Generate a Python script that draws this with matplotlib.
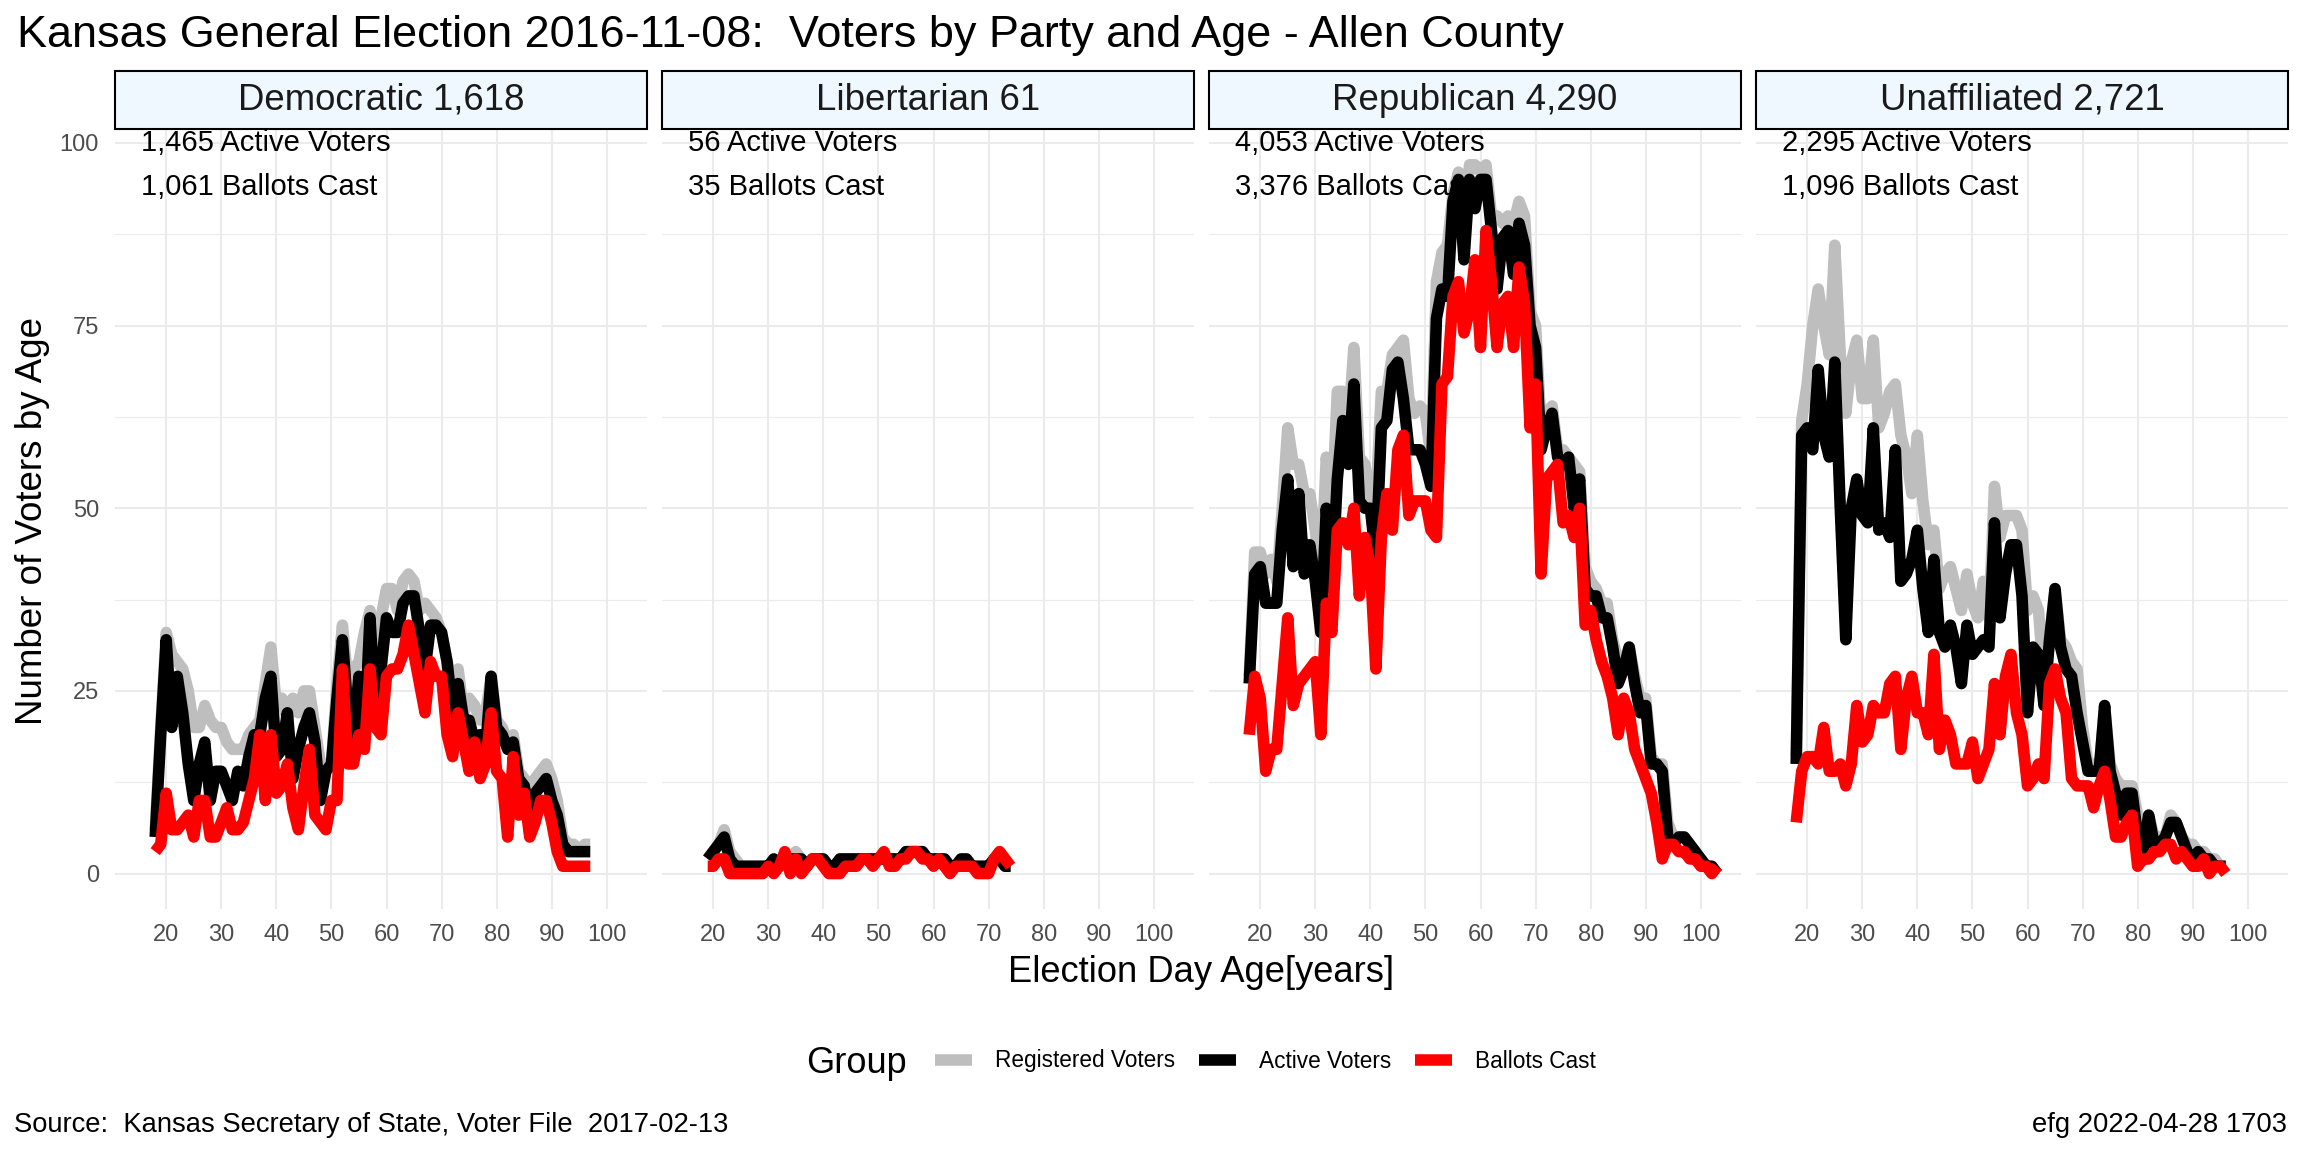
import numpy as np
import matplotlib
matplotlib.use('Agg')
import matplotlib.pyplot as plt
from matplotlib.patches import Rectangle

plt.rcParams['font.family'] = ['Liberation Sans', 'DejaVu Sans']

W, H = 2304, 1152

# Party totals shown in strips / annotations
parties = ['Democratic', 'Libertarian', 'Republican', 'Unaffiliated']
registered_total = [1618, 61, 4290, 2721]
active_total = [1465, 56, 4053, 2295]
ballots_total = [1061, 35, 3376, 1096]

# Democratic, ages 18-97
dem_ages = np.arange(18, 98)
dem_registered = [6, 20, 33, 30, 29, 28, 25, 20, 20, 23,
                  21, 20, 20, 18, 17, 17, 17, 19, 20, 21,
                  26, 31, 23, 24, 21, 24, 22, 25, 25, 20,
                  15, 15, 15, 26, 34, 26, 28, 29, 33, 36,
                  29, 35, 39, 39, 36, 40, 41, 40, 36, 37,
                  36, 35, 33, 29, 26, 28, 22, 24, 23, 21,
                  22, 27, 21, 20, 18, 19, 14, 13, 12, 13,
                  14, 15, 13, 10, 5, 4, 4, 3, 4, 4]
dem_active = [5, 19, 32, 20, 27, 22, 15, 10, 15, 18,
              10, 14, 14, 12, 10, 14, 12, 16, 19, 19,
              24, 27, 16, 17, 22, 13, 17, 20, 22, 18,
              10, 14, 15, 24, 32, 22, 19, 27, 19, 35,
              22, 28, 35, 33, 33, 37, 38, 38, 33, 28,
              34, 34, 33, 29, 22, 26, 21, 21, 18, 19,
              17, 27, 20, 19, 17, 18, 13, 12, 8, 11,
              12, 13, 10, 8, 4, 3, 3, 3, 3, 3]
dem_ballots = [3, 4, 11, 6, 6, 7, 8, 5, 10, 10,
               5, 5, 7, 9, 6, 6, 7, 10, 13, 19,
               10, 19, 11, 12, 15, 9, 6, 12, 17, 8,
               7, 6, 10, 10, 28, 15, 15, 19, 17, 28,
               20, 19, 27, 28, 28, 30, 34, 30, 26, 22,
               29, 27, 27, 19, 16, 22, 18, 14, 18, 13,
               15, 22, 14, 13, 5, 16, 8, 11, 5, 7,
               10, 10, 7, 3, 1, 1, 1, 1, 1, 1]

# Libertarian, ages 19-74
lib_ages = np.arange(19, 75)
lib_registered = [2, 3, 4, 6, 3, 2, 1, 1, 1, 1,
                  1, 1, 2, 1, 2, 2, 3, 2, 1, 2,
                  2, 2, 1, 1, 2, 2, 2, 2, 2, 2,
                  2, 2, 2, 2, 2, 2, 3, 3, 3, 3,
                  2, 2, 2, 2, 1, 1, 2, 2, 1, 1,
                  1, 1, 2, 3, 1, 1]
lib_active = [2, 3, 4, 5, 2, 1, 1, 1, 1, 1,
              1, 1, 2, 1, 2, 2, 2, 2, 1, 2,
              2, 2, 1, 1, 2, 2, 2, 2, 2, 2,
              2, 2, 2, 2, 2, 2, 3, 3, 3, 3,
              2, 2, 2, 2, 1, 1, 2, 2, 1, 1,
              1, 1, 2, 2, 1, 1]
lib_ballots = [1, 1, 2, 2, 0, 0, 0, 0, 0, 0,
               0, 1, 0, 1, 3, 0, 2, 0, 1, 2,
               2, 1, 0, 0, 0, 1, 1, 1, 2, 2,
               1, 2, 3, 1, 1, 2, 2, 3, 3, 2,
               2, 1, 2, 1, 0, 1, 1, 1, 1, 0,
               0, 0, 2, 3, 2, 1]

# Republican, ages 18-103
rep_ages = np.arange(18, 104)
rep_registered = [27, 44, 44, 41, 43, 40, 50, 61, 56, 56,
                  52, 52, 47, 40, 57, 49, 66, 66, 61, 72,
                  57, 56, 51, 51, 66, 66, 71, 72, 73, 65,
                  63, 64, 63, 57, 81, 85, 86, 93, 96, 87,
                  97, 97, 96, 97, 90, 90, 89, 90, 89, 92,
                  90, 77, 75, 61, 63, 64, 58, 58, 57, 56,
                  55, 42, 40, 39, 37, 37, 32, 29, 29, 31,
                  27, 24, 24, 16, 15, 15, 7, 5, 5, 5,
                  4, 3, 2, 1, 1, 0]
rep_active = [26, 41, 42, 37, 37, 37, 47, 54, 42, 52,
              41, 45, 40, 33, 50, 39, 54, 62, 56, 67,
              51, 50, 50, 43, 61, 62, 69, 70, 65, 58,
              58, 58, 56, 53, 76, 80, 79, 92, 95, 84,
              95, 91, 95, 95, 88, 80, 87, 88, 82, 89,
              86, 75, 72, 58, 61, 63, 57, 56, 57, 50,
              54, 39, 38, 38, 35, 35, 31, 26, 28, 31,
              26, 22, 23, 15, 15, 14, 5, 4, 5, 5,
              4, 3, 2, 1, 1, 0]
rep_ballots = [19, 27, 24, 14, 17, 17, 26, 35, 23, 26,
               27, 28, 29, 19, 37, 33, 47, 48, 45, 50,
               38, 46, 42, 28, 46, 52, 47, 58, 60, 49,
               51, 51, 51, 47, 46, 67, 68, 79, 81, 74,
               77, 84, 72, 88, 81, 72, 78, 79, 72, 83,
               78, 61, 67, 41, 54, 55, 56, 48, 49, 46,
               50, 34, 36, 32, 29, 27, 24, 19, 24, 22,
               17, 15, 13, 11, 7, 2, 4, 4, 3, 3,
               2, 2, 1, 1, 0, 1]

# Unaffiliated, ages 18-96
una_ages = np.arange(18, 97)
una_registered = [16, 62, 67, 75, 80, 75, 71, 86, 71, 63,
                  70, 73, 65, 65, 73, 61, 63, 66, 67, 60,
                  57, 52, 60, 51, 45, 47, 39, 41, 42, 39,
                  36, 41, 37, 35, 40, 35, 53, 46, 49, 49,
                  49, 47, 36, 38, 36, 26, 32, 39, 32, 31,
                  29, 28, 20, 15, 15, 14, 23, 15, 13, 12,
                  12, 12, 8, 3, 8, 5, 5, 5, 8, 7,
                  5, 4, 4, 3, 3, 2, 2, 1, 1]
una_active = [15, 60, 61, 58, 69, 60, 57, 70, 50, 32,
              50, 54, 49, 48, 61, 47, 48, 46, 58, 40,
              41, 43, 47, 39, 33, 43, 33, 31, 34, 31,
              26, 34, 30, 31, 32, 31, 48, 35, 41, 45,
              45, 38, 22, 31, 30, 23, 32, 39, 31, 28,
              27, 22, 18, 14, 14, 14, 23, 14, 11, 8,
              11, 11, 5, 3, 8, 4, 4, 5, 7, 7,
              5, 3, 2, 3, 2, 2, 1, 1, 1]
una_ballots = [7, 14, 16, 16, 15, 20, 14, 14, 15, 12,
               15, 23, 18, 19, 23, 22, 22, 26, 27, 17,
               24, 27, 22, 22, 19, 30, 17, 21, 19, 15,
               15, 15, 18, 13, 15, 17, 26, 19, 27, 30,
               22, 19, 12, 13, 15, 13, 26, 28, 24, 22,
               13, 12, 12, 12, 9, 12, 14, 10, 5, 5,
               7, 8, 1, 2, 2, 3, 3, 4, 4, 2,
               3, 2, 1, 1, 2, 0, 1, 1, 0]

series = [
    (dem_ages, dem_registered, dem_active, dem_ballots),
    (lib_ages, lib_registered, lib_active, lib_ballots),
    (rep_ages, rep_registered, rep_active, rep_ballots),
    (una_ages, una_registered, una_active, una_ballots),
]

group_labels = ['Registered Voters', 'Active Voters', 'Ballots Cast']
group_colors = ['#BEBEBE', '#000000', '#FF0000']

fig = plt.figure(figsize=(W / 100, H / 100), dpi=100)

panel_left = [115, 662, 1209, 1756]
panel_w = 532
panel_top, panel_bottom = 129, 909
strip_h = 58

handles = []
for i, (ages, reg, act, bal) in enumerate(series):
    ax = fig.add_axes([panel_left[i] / W, 1 - panel_bottom / H,
                       panel_w / W, (panel_bottom - panel_top) / H])
    ax.set_xlim(10.7, 107.3)
    ax.set_ylim(-4.85, 101.9)
    ax.set_xticks(range(20, 101, 10))
    ax.set_yticks([0, 25, 50, 75, 100])
    ax.set_yticks([12.5, 37.5, 62.5, 87.5], minor=True)
    ax.set_axisbelow(True)
    ax.grid(which='major', color='#EBEBEB', linewidth=1.5)
    ax.grid(which='minor', axis='y', color='#EBEBEB', linewidth=0.8)
    for s in ax.spines.values():
        s.set_visible(False)
    ax.tick_params(which='both', length=0, labelsize=17, labelcolor='#4D4D4D')
    ax.tick_params(axis='x', pad=11)
    ax.tick_params(axis='y', pad=11.5)
    if i > 0:
        ax.tick_params(axis='y', labelleft=False)

    lines = []
    for vals, col, lab in zip((reg, act, bal), group_colors, group_labels):
        ln, = ax.plot(ages, vals, color=col, linewidth=8.3, label=lab,
                      solid_capstyle='butt', solid_joinstyle='round')
        lines.append(ln)
    if i == 0:
        handles = lines

    # facet strip
    ax.add_patch(Rectangle((0, 1), 1, strip_h / (panel_bottom - panel_top),
                           transform=ax.transAxes, clip_on=False,
                           facecolor='#F0F8FF', edgecolor='black', linewidth=1.5))
    ax.text(0.5, 1 + (strip_h / 2) / (panel_bottom - panel_top),
            f'{parties[i]} {registered_total[i]:,}', transform=ax.transAxes,
            ha='center', va='center', fontsize=26.4, color='#1A1A1A')

    ax.text(15.4, 100, f'{active_total[i]:,} Active Voters',
            ha='left', va='center', fontsize=21, color='black')
    ax.text(15.4, 94, f'{ballots_total[i]:,} Ballots Cast',
            ha='left', va='center', fontsize=21, color='black')

fig.text(17 / W, 1 - 47 / H,
         'Kansas General Election 2016-11-08:  Voters by Party and Age - Allen County',
         ha='left', va='baseline', fontsize=32.4)

fig.text(33 / W, 1 - 521 / H, 'Number of Voters by Age', rotation=90,
         ha='center', va='center', fontsize=26.5)
fig.text((115 + 2288) / 2 / W, 1 - 973 / H, 'Election Day Age[years]',
         ha='center', va='center', fontsize=26.2)

fig.text(806 / W, 1 - 1073 / H, 'Group', ha='left', va='baseline', fontsize=26)
fig.legend(handles=handles, labels=group_labels, loc='center',
           bbox_to_anchor=(1265 / W, 1 - 1061 / H), ncol=3, frameon=False,
           fontsize=16.3, handlelength=1.65, handletextpad=1.0, columnspacing=1.05,
           borderpad=0, borderaxespad=0)

fig.text(14 / W, 1 - 1132 / H,
         'Source:  Kansas Secretary of State, Voter File  2017-02-13',
         ha='left', va='baseline', fontsize=19.7)
fig.text(2287 / W, 1 - 1132 / H, 'efg 2022-04-28 1703',
         ha='right', va='baseline', fontsize=19.7)

fig.savefig('out.png', dpi=100, facecolor='white')
